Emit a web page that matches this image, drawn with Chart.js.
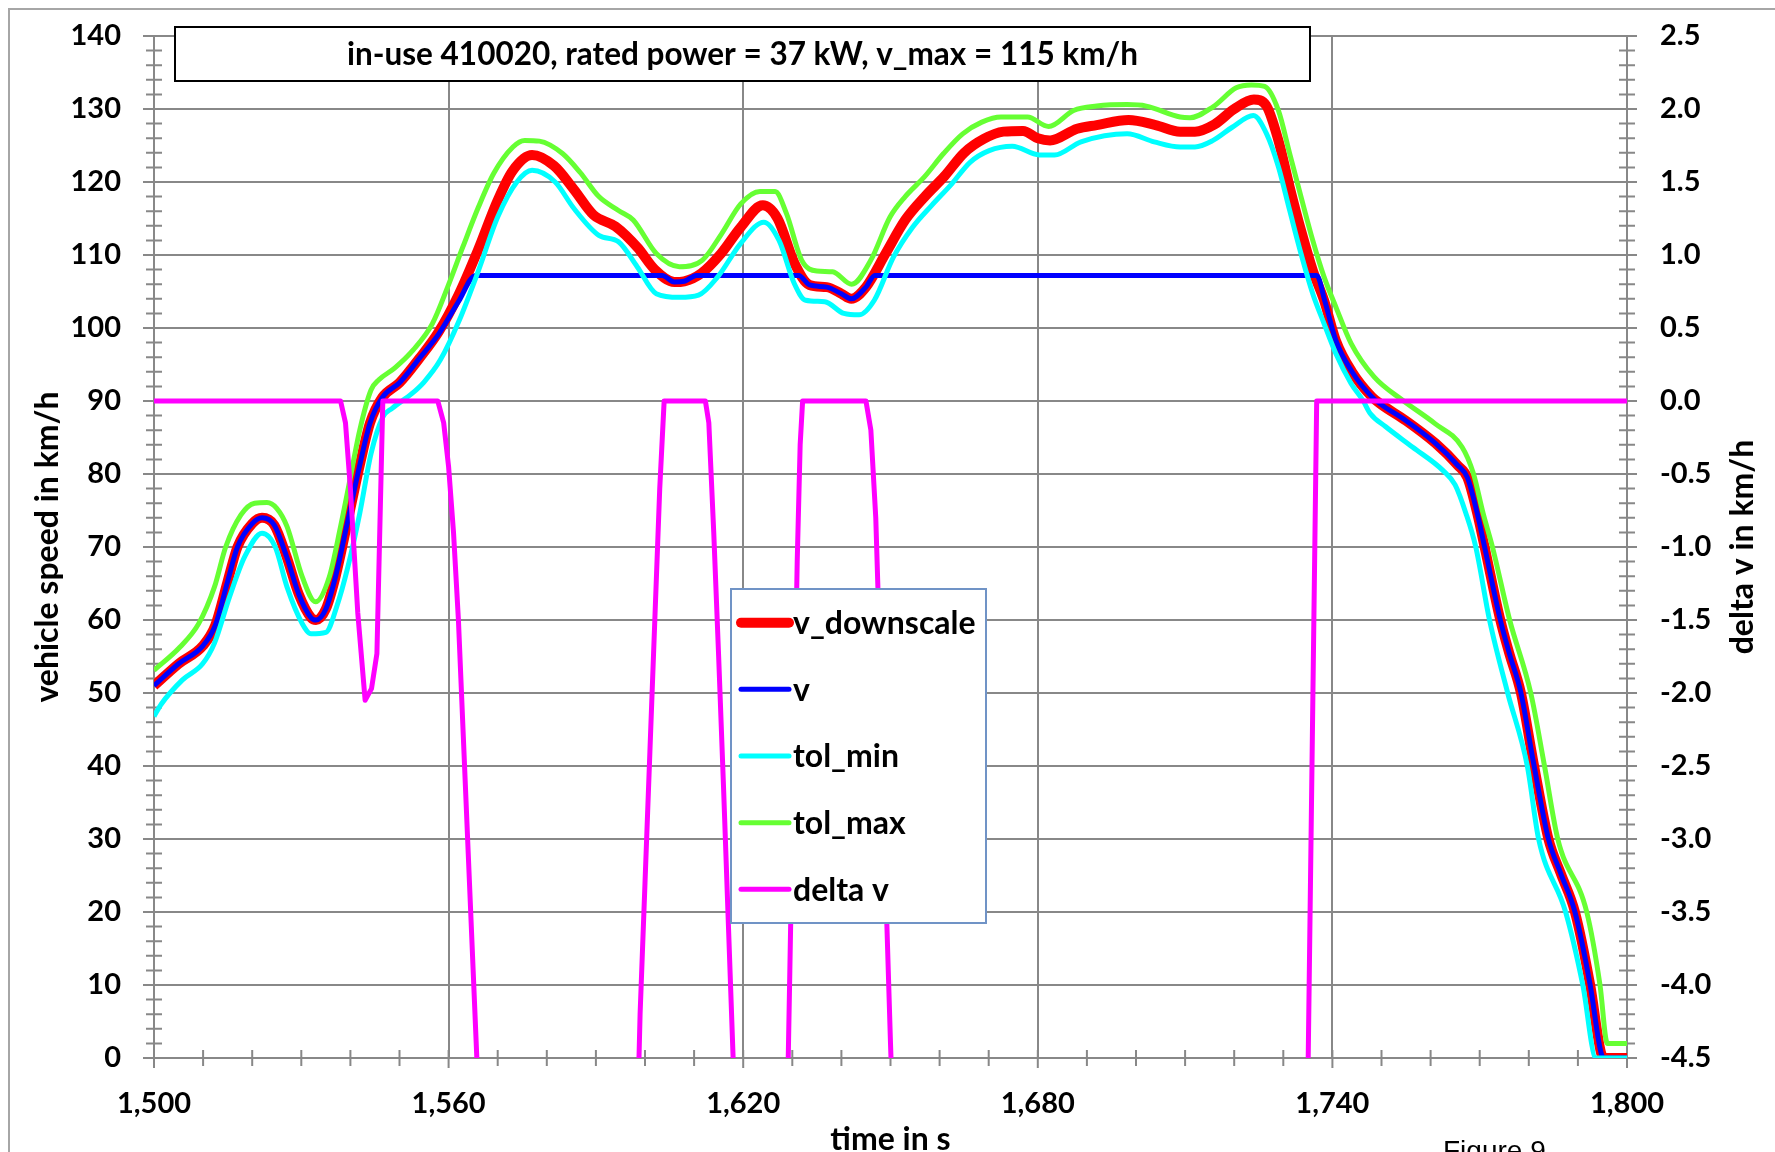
<!DOCTYPE html>
<html>
<head>
<meta charset="utf-8">
<script src="https://cdn.jsdelivr.net/npm/chart.js@4.4.1/dist/chart.umd.min.js"></script>
<style>
  html, body { margin: 0; padding: 0; background: #fff; overflow: hidden; }
  #wrap { position: relative; width: 1775px; height: 1190px; }
</style>
</head>
<body>
<div id="wrap"><canvas id="speed_chart"></canvas></div>
<script>
// v_downscale (red)
const downscaleTime = [1500, 1505, 1510, 1512.5, 1515, 1517, 1520, 1522, 1524.5, 1527, 1529.5, 1532, 1533, 1535, 1537, 1539.5, 1542, 1544, 1546.5, 1550, 1554, 1558, 1562, 1566, 1570, 1573, 1577, 1581.5, 1585.5, 1589.5, 1594, 1598.5, 1602, 1606, 1608, 1611.5, 1615.5, 1619.5, 1624, 1627, 1630.5, 1633.5, 1637, 1640, 1642, 1645, 1649, 1653, 1657, 1661, 1665, 1669, 1673, 1677, 1680, 1682.5, 1688, 1692, 1698.5, 1704, 1709, 1712, 1716, 1720, 1724, 1726.5, 1729, 1731.3, 1733.6, 1736, 1738.3, 1740.7, 1744, 1748, 1750, 1755, 1761, 1765.5, 1767.5, 1769.5, 1771, 1774.2, 1776, 1778.4, 1781, 1784, 1786.5, 1789.4, 1792.5, 1794.8, 1795.5, 1800];
const downscaleSpeed = [51.0, 54.0, 56.5, 59.3, 65.3, 70.0, 73.2, 74.0, 73.0, 68.7, 63.5, 60.3, 60.0, 61.5, 66.0, 73.7, 81.5, 87.0, 90.5, 92.5, 95.8, 99.5, 104.5, 110.7, 117.5, 121.5, 123.7, 122.2, 119.0, 115.5, 113.9, 111.0, 108.0, 106.3, 106.4, 107.5, 110.2, 113.8, 116.8, 115.0, 108.8, 105.9, 105.6, 104.7, 104.0, 105.6, 110.2, 114.8, 118.0, 120.8, 124.0, 125.9, 126.9, 127.0, 126.0, 125.7, 127.3, 127.8, 128.5, 127.8, 126.9, 126.9, 127.9, 130.0, 131.3, 130.5, 125.7, 119.3, 113.4, 107.9, 103.8, 98.3, 94.0, 90.6, 89.5, 87.3, 84.2, 81.2, 79.5, 74.6, 70.0, 60.0, 55.5, 50.0, 40.3, 30.0, 25.3, 20.0, 10.0, 0.5, 0, 0];

// v (blue)
const vTime = [1500, 1505, 1510, 1512.5, 1515, 1517, 1520, 1522, 1524.5, 1527, 1529.5, 1532, 1533, 1535, 1537, 1539.5, 1542, 1544, 1546.5, 1550, 1554, 1558, 1562, 1565.5, 1603.5, 1606, 1608, 1610.5, 1631.3, 1633.5, 1637, 1640, 1642, 1645, 1646.8, 1736.8, 1738.5, 1740.7, 1744, 1748, 1750, 1755, 1761, 1765.5, 1767.5, 1769.5, 1771, 1774.2, 1776, 1778.4, 1781, 1784, 1786.5, 1789.4, 1792.5, 1794.8, 1795.5, 1800];
const vSpeed = [51.0, 54.0, 56.5, 59.3, 65.3, 70.0, 73.2, 74.0, 73.0, 68.7, 63.5, 60.3, 60.0, 61.5, 66.0, 73.7, 81.5, 87.0, 90.5, 92.5, 95.8, 99.2, 103.6, 107.2, 107.2, 106.3, 106.4, 107.2, 107.2, 105.9, 105.6, 104.7, 104.0, 105.6, 107.2, 107.2, 103.6, 98.3, 94.0, 90.6, 89.5, 87.3, 84.2, 81.2, 79.5, 74.6, 70.0, 60.0, 55.5, 50.0, 40.3, 30.0, 25.3, 20.0, 10.0, 0.5, 0, 0];

// tol_min (cyan)
const tolMinTime = [1500, 1501.5, 1505.8, 1509.9, 1512.3, 1515.4, 1518.5, 1522, 1524.7, 1527.1, 1530.2, 1532, 1535, 1537.2, 1539.5, 1541.9, 1544.2, 1546.6, 1548.5, 1552.5, 1555, 1558.3, 1562.2, 1566.1, 1570, 1573.9, 1577, 1581.7, 1585.5, 1590.6, 1594.6, 1598.4, 1602.3, 1607, 1610.9, 1614.8, 1619.5, 1624.2, 1627.3, 1630.4, 1632.7, 1636.6, 1640.5, 1643.6, 1646.7, 1650.6, 1654.5, 1658.4, 1662.3, 1666.2, 1670.1, 1674.8, 1680.3, 1683.4, 1688.8, 1698.2, 1703.7, 1709, 1712, 1715.7, 1719.6, 1723.9, 1726.6, 1729, 1731.3, 1733.6, 1736, 1738.3, 1740.7, 1743.8, 1746.2, 1747.7, 1750.8, 1756.3, 1762.5, 1765, 1767.2, 1769.2, 1772, 1775.7, 1779.7, 1782, 1787.5, 1791, 1793.7, 1800];
const tolMinSpeed = [46.8, 48.5, 51.8, 54.0, 56.8, 63.2, 68.7, 71.9, 70.0, 64.5, 59.5, 58.1, 58.3, 61.8, 67.3, 74.6, 82.8, 87.8, 89.0, 91.0, 92.6, 95.6, 101.1, 107.9, 115.2, 120.0, 121.6, 120.0, 116.4, 112.7, 111.8, 108.4, 104.7, 104.2, 104.5, 107.0, 111.6, 114.5, 112.0, 106.1, 103.8, 103.6, 102.0, 101.8, 103.8, 109.7, 113.8, 116.8, 119.6, 122.7, 124.3, 124.9, 123.7, 123.7, 125.5, 126.6, 125.5, 124.8, 124.8, 125.7, 127.5, 129.1, 126.6, 122.1, 116.1, 110.2, 104.7, 100.6, 96.5, 92.4, 90.1, 88.3, 86.5, 83.7, 80.5, 78.5, 74.6, 70.0, 60.0, 50.0, 40.0, 30.0, 20.0, 10.0, 0, 0];

// tol_max (green)
const tolMaxTime = [1500, 1505.3, 1509.1, 1512.3, 1514.6, 1517.7, 1520.5, 1523, 1525, 1527.1, 1530.2, 1532.9, 1535.7, 1538, 1539.5, 1541.9, 1544.2, 1545.8, 1549, 1552.8, 1556.7, 1559.8, 1562.9, 1566.1, 1569.2, 1573.1, 1575.5, 1578.5, 1583.2, 1586.8, 1590.6, 1594.6, 1597.6, 1602.3, 1607, 1611.7, 1615.6, 1619.5, 1623.4, 1626.5, 1628.8, 1631.9, 1635, 1638.2, 1642.1, 1646, 1649.9, 1653, 1656.9, 1660.8, 1664.7, 1668.6, 1672.5, 1677.9, 1682.2, 1687.3, 1692, 1698.2, 1702.1, 1709, 1711, 1715.7, 1720.4, 1723.5, 1726.2, 1729, 1731.3, 1733.6, 1736, 1738.3, 1740.7, 1743.8, 1748.5, 1754.3, 1760.9, 1766.4, 1768.7, 1770.7, 1772.6, 1776.1, 1780.4, 1783.2, 1785.9, 1791.8, 1794.5, 1796, 1800];
const tolMaxSpeed = [53.1, 56.3, 59.5, 64.5, 70.0, 74.4, 76.0, 76.1, 75.3, 72.8, 65.9, 62.5, 65.9, 72.8, 77.8, 86.0, 91.5, 92.9, 94.5, 97.0, 100.6, 105.6, 111.1, 116.6, 121.2, 124.8, 125.7, 125.6, 123.9, 121.3, 118.0, 116.1, 114.8, 110.2, 108.4, 109.3, 112.9, 117.0, 118.7, 118.7, 115.7, 109.3, 107.8, 107.7, 106.0, 109.3, 115.2, 118.0, 120.7, 123.9, 126.6, 128.2, 128.9, 128.9, 127.6, 129.8, 130.4, 130.6, 130.4, 128.9, 128.8, 130.3, 132.9, 133.3, 133.1, 129.8, 123.9, 118.0, 112.0, 107.0, 102.9, 97.9, 93.3, 90.1, 86.9, 83.7, 80.1, 74.6, 70.0, 60.0, 50.0, 40.0, 30.0, 20.0, 10.0, 2.0, 2.0];

// delta v (magenta, right axis); null = line leaves the plot below -4.5
const deltaTime = [1500, 1538, 1539, 1540, 1541.5, 1543, 1544.3, 1545.4, 1546.6, 1557.8, 1559, 1560, 1561, 1562, 1563, 1564, 1565, 1566, 1566.5, 1582, 1598.4, 1599, 1600, 1601, 1602, 1603, 1603.9, 1612.3, 1613, 1614, 1615, 1616, 1617, 1618, 1618.5, 1623, 1628.9, 1629.5, 1630.3, 1631, 1631.6, 1632.1, 1645, 1646, 1647, 1648, 1649, 1650, 1650.6, 1690, 1734.9, 1736.8, 1800];
const deltaV = [0, 0, -0.15, -0.6, -1.45, -2.05, -1.97, -1.73, 0, 0, -0.15, -0.45, -0.9, -1.5, -2.3, -3.1, -3.9, -4.7, -5.1, null, -5.0, -4.2, -3.3, -2.4, -1.5, -0.6, 0, 0, -0.15, -0.9, -1.75, -2.65, -3.6, -4.55, -5.0, null, -5.0, -3.9, -2.4, -1.1, -0.3, 0, 0, -0.2, -0.8, -1.9, -3.3, -4.4, -5.0, null, -4.95, 0, 0];

const chartTitle = "in-use 410020, rated power = 37 kW, v_max = 115 km/h";
const gridGray = "#888888";
const fontFamily = "Lato";

const toPoints = (ts, vs) => ts.map((t, i) => ({ x: t, y: vs[i] }));

// marco gris exterior
const plugin_frame = {
  id: "frame",
  beforeDraw: (chart) => {
    const ctx = chart.ctx;
    ctx.save();
    ctx.strokeStyle = "#a6a6a6";
    ctx.lineWidth = 2;
    ctx.beginPath();
    ctx.moveTo(9, chart.height);
    ctx.lineTo(9, 9);
    ctx.lineTo(chart.width, 9);
    ctx.stroke();
    ctx.restore();
  },
};

// pequeñas marcas cruzando los ejes
const plugin_minor_ticks = {
  id: "minorTicks",
  beforeDatasetsDraw: (chart) => {
    const { ctx, scales } = chart;
    const x = scales.x, y = scales.y, y1 = scales.y1;
    ctx.save();
    ctx.strokeStyle = gridGray;
    ctx.lineWidth = 2;
    ctx.beginPath();
    for (let t = 1500; t <= 1800; t += 10) {
      const px = x.getPixelForValue(t);
      const major = (t - 1500) % 60 === 0;
      ctx.moveTo(px, y.bottom - 8);
      ctx.lineTo(px, y.bottom + (major ? 10 : 8));
    }
    for (let v = 0; v <= 140; v += 2) {
      const py = y.getPixelForValue(v);
      const major = v % 10 === 0;
      ctx.moveTo(x.left - (major ? 11 : 8), py);
      ctx.lineTo(x.left + 8, py);
    }
    for (let d = -45; d <= 25; d++) {
      const py = y1.getPixelForValue(d / 10);
      const major = d % 5 === 0;
      ctx.moveTo(x.right - (major ? 10 : 8), py);
      ctx.lineTo(x.right + (major ? 10 : 8), py);
    }
    ctx.stroke();
    ctx.restore();
  },
};

// cuadro de título, leyenda, título del eje derecho
const plugin_boxes = {
  id: "boxes",
  afterDraw: (chart) => {
    const ctx = chart.ctx;
    const area = chart.chartArea;
    ctx.save();

    // título
    ctx.fillStyle = "#fff";
    ctx.fillRect(175, 27, 1135, 54);
    ctx.strokeStyle = "#000";
    ctx.lineWidth = 2;
    ctx.strokeRect(175, 27, 1135, 54);
    ctx.fillStyle = "#000";
    ctx.font = `bold 31.5px ${fontFamily}`;
    ctx.textAlign = "center";
    ctx.textBaseline = "middle";
    ctx.fillText(chartTitle, 742.5, 55);

    // leyenda
    ctx.fillStyle = "#fff";
    ctx.fillRect(731, 589, 255, 334);
    ctx.strokeStyle = "#7093c6";
    ctx.lineWidth = 2;
    ctx.strokeRect(731, 589, 255, 334);
    ctx.font = `bold 32px ${fontFamily}`;
    ctx.textAlign = "left";
    chart.data.datasets.forEach((ds, i) => {
      const yy = 622.7 + i * 66.65;
      ctx.strokeStyle = ds.borderColor;
      ctx.lineWidth = ds.borderWidth;
      ctx.lineCap = "round";
      ctx.beginPath();
      ctx.moveTo(741, yy);
      ctx.lineTo(789, yy);
      ctx.stroke();
      ctx.fillStyle = "#000";
      ctx.fillText(ds.label, 793, yy + 1);
    });

    // título eje derecho (leído de abajo hacia arriba)
    ctx.translate(1743, (area.top + area.bottom) / 2);
    ctx.rotate(-Math.PI / 2);
    ctx.textAlign = "center";
    ctx.fillText("delta v in km/h", 0, 0);
    ctx.restore();

    ctx.save();
    ctx.fillStyle = "#000";
    ctx.font = '28px "Liberation Sans"';
    ctx.textAlign = "left";
    ctx.textBaseline = "alphabetic";
    ctx.fillText("Figure 9", 1443, 1160);
    ctx.restore();
  },
};

// los ejes verticales no deben empujar el área del gráfico hacia abajo
const noVerticalPadding = (scale, width) => {
  scale.width = width;
  scale.paddingTop = 0;
  scale.paddingBottom = 0;
};

const ctx = document.getElementById("speed_chart").getContext("2d");
const chart_speed = new Chart(ctx, {
  type: "line",
  data: {
    datasets: [
      {
        label: "v_downscale",
        data: toPoints(downscaleTime, downscaleSpeed),
        borderColor: "#ff0000",
        borderWidth: 10,
        cubicInterpolationMode: "monotone",
        yAxisID: "y",
        order: 5,
        clip: 0,
      },
      {
        label: "v",
        data: toPoints(vTime, vSpeed),
        borderColor: "#0000ff",
        borderWidth: 5,
        cubicInterpolationMode: "monotone",
        yAxisID: "y",
        order: 4,
      },
      {
        label: "tol_min",
        data: toPoints(tolMinTime, tolMinSpeed),
        borderColor: "#00ffff",
        borderWidth: 5,
        cubicInterpolationMode: "monotone",
        yAxisID: "y",
        order: 3,
      },
      {
        label: "tol_max",
        data: toPoints(tolMaxTime, tolMaxSpeed),
        borderColor: "#66ff33",
        borderWidth: 5,
        cubicInterpolationMode: "monotone",
        yAxisID: "y",
        order: 2,
      },
      {
        label: "delta v",
        data: toPoints(deltaTime, deltaV),
        borderColor: "#ff00ff",
        borderWidth: 5,
        tension: 0,
        spanGaps: false,
        yAxisID: "y1",
        order: 1,
      },
    ],
  },
  options: {
    responsive: true,
    maintainAspectRatio: false,
    animation: false,
    events: [],
    layout: { padding: { top: 36, left: 0, right: 0, bottom: 0 } },
    elements: {
      point: { radius: 0 },
      line: { borderJoinStyle: "round", borderCapStyle: "butt" },
    },
    font: { family: fontFamily },
    plugins: {
      legend: { display: false },
      title: { display: false },
      tooltip: { enabled: false },
    },
    scales: {
      x: {
        type: "linear",
        min: 1500,
        max: 1800,
        afterFit: (scale) => { scale.height = 132; },
        ticks: {
          stepSize: 60,
          autoSkip: false,
          maxRotation: 0,
          padding: 28,
          color: "#000",
          font: { family: fontFamily, size: 29, weight: "bold" },
          callback: (value) => value.toLocaleString("en-US"),
        },
        grid: { color: gridGray, lineWidth: 2, drawTicks: false },
        border: { display: true, color: gridGray, width: 2 },
        title: {
          display: true,
          text: "time in s",
          color: "#000",
          font: { family: fontFamily, size: 32, weight: "bold" },
          padding: { top: 0, bottom: 31 },
        },
      },
      y: {
        position: "left",
        min: 0,
        max: 140,
        afterFit: (scale) => noVerticalPadding(scale, 154),
        ticks: {
          stepSize: 10,
          padding: 33,
          color: "#000",
          font: { family: fontFamily, size: 29, weight: "bold" },
        },
        grid: { color: gridGray, lineWidth: 2, drawTicks: false },
        border: { display: true, color: gridGray, width: 2 },
        title: {
          display: true,
          text: "vehicle speed in km/h",
          color: "#000",
          font: { family: fontFamily, size: 32, weight: "bold" },
          padding: { top: 28, bottom: 0 },
        },
      },
      y1: {
        position: "right",
        min: -4.5,
        max: 2.5,
        afterFit: (scale) => noVerticalPadding(scale, 148),
        ticks: {
          stepSize: 0.5,
          padding: 33,
          color: "#000",
          font: { family: fontFamily, size: 29, weight: "bold" },
          callback: (value) => Number(value).toFixed(1),
        },
        grid: { drawOnChartArea: false, drawTicks: false },
        border: { display: true, color: gridGray, width: 2 },
      },
    },
  },
  plugins: [plugin_frame, plugin_minor_ticks, plugin_boxes],
});
</script>
</body>
</html>
